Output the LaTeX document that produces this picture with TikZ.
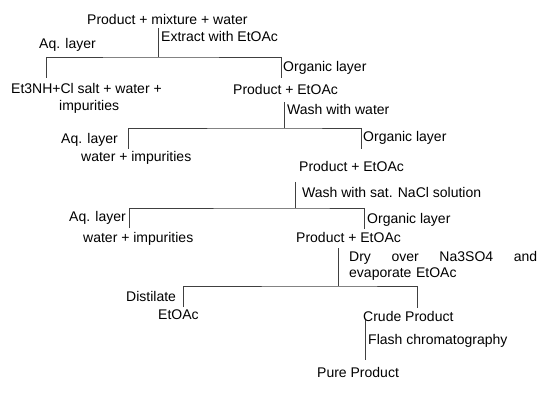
\documentclass[tikz,border=0pt]{standalone}
\usepackage{fontspec}
\setmainfont{Liberation Sans}
\begin{document}
\begin{tikzpicture}[x=1pt,y=-1pt,
			lbl/.style={anchor=base west,inner sep=0pt,font=\fontsize{14}{17}\selectfont},
			br/.style={draw=black!75,line width=0.8pt}]
			\useasboundingbox (0,0) rectangle (560,409);
			\node[lbl] (mix) at (87,25) {Product + mixture + water};
			\node[lbl] (ext) at (161,42) {Extract with EtOAc};
			\node[lbl] (aqa) at (39,49) {Aq. layer};
			\node[lbl] (salt) at (11,94) {Et3NH+Cl salt + water +};
			\node[lbl] (imp) at (59,111) {impurities};
			\node[lbl] (orga) at (283,72) {Organic layer};
			\node[lbl] (proda) at (233,95) {Product + EtOAc};
			\node[lbl] (wash) at (287,115) {Wash with water};
			\node[lbl] (aqb) at (61,144) {Aq. layer};
			\node[lbl] (wib) at (81,162) {water + impurities};
			\node[lbl] (orgb) at (363,142) {Organic layer};
			\node[lbl] (prodb) at (299,172) {Product + EtOAc};
			\node[lbl] (brine) at (302,197) {Wash with sat. NaCl solution};
			\node[lbl] (aqc) at (69,222) {Aq. layer};
			\node[lbl] (wic) at (83,242) {water + impurities};
			\node[lbl] (orgc) at (367,224) {Organic layer};
			\node[lbl] (prodc) at (296,242) {Product + EtOAc};
			\node[lbl,text width=188pt,align=left] (dry) at (349,261) {Dry\hfill over\hfill Na3SO4\hfill and\\evaporate EtOAc};
			\node[lbl] (dist) at (126,301) {Distilate};
			\node[lbl] (etoac) at (158,319) {EtOAc};
			\node[lbl] (crude) at (363,321) {Crude Product};
			\node[lbl] (flash) at (368,344) {Flash chromatography};
			\node[lbl] (pure) at (317,377) {Pure Product};
			\coordinate (sa) at (158,28); \coordinate (ja) at (158,57);
			\coordinate (la) at (46,78); \coordinate (ra) at (281,78);
			\coordinate (sb) at (284,102); \coordinate (jb) at (284,128);
			\coordinate (lb) at (128,149); \coordinate (rb) at (361,149);
			\coordinate (sc) at (295.7,182); \coordinate (jc) at (295.7,208);
			\coordinate (lc) at (129,228); \coordinate (rc) at (364,229);
			\coordinate (sd) at (338,248); \coordinate (jd) at (338,286);
			\coordinate (ld) at (183,307); \coordinate (rd) at (417,308);
			\coordinate (se) at (365.7,320); \coordinate (je) at (365.7,360);
			\draw[br] (sa) -- (ja); \draw[br] (la) |- (ja) -| (ra);
			\draw[br] (sb) -- (jb); \draw[br] (lb) |- (jb) -| (rb);
			\draw[br] (sc) -- (jc); \draw[br] (lc) |- (jc) -| (rc);
			\draw[br] (sd) -- (jd); \draw[br] (ld) |- (jd) -| (rd);
			\draw[br] (se) -- (je);
		\end{tikzpicture}
\end{document}
